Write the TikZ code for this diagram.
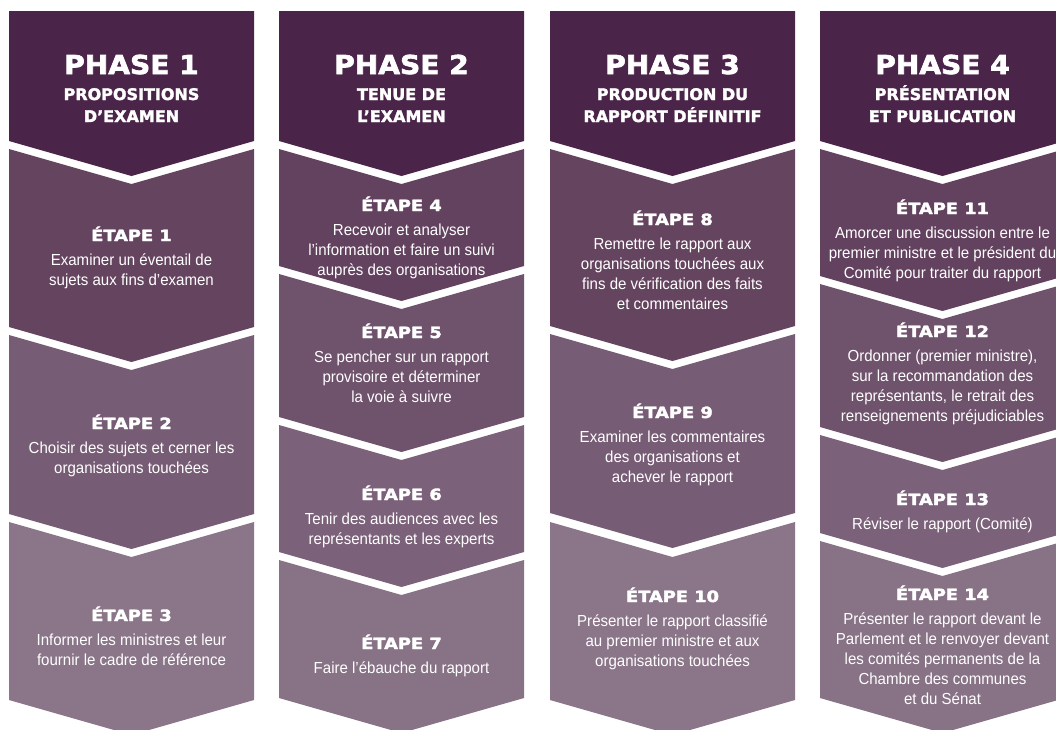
\documentclass[tikz,border=0pt]{standalone}
\usepackage{fontspec}
\setmainfont{Liberation Sans}
\newfontfamily\phasefont[FakeStretch=1.08,FakeBold=2.5]{DejaVu Sans Bold}
\newfontfamily\subfont[FakeBold=2]{DejaVu Sans Bold}
\newfontfamily\etapefont[FakeStretch=1.15,FakeBold=2.5]{DejaVu Sans Bold}
\newfontfamily\bodyfont[FakeStretch=0.94]{Liberation Sans}
\definecolor{hd}{HTML}{4B2449}
\definecolor{ta}{HTML}{65445F}
\definecolor{tb}{HTML}{775C75}
\definecolor{tc}{HTML}{8B7589}
\definecolor{fa}{HTML}{63425F}
\definecolor{fb}{HTML}{6F526C}
\definecolor{fc}{HTML}{7B6179}
\definecolor{fd}{HTML}{887286}
\newcommand\mkhead[2]{\fill[#2] (#1,11) -- (#1+245,11) -- (#1+245,141) -- (#1+122.5,176) -- (#1,141) -- cycle;}
\newcommand\mkpiece[4]{\fill[#4] (#1,#2) -- (#1+122.5,#2+35) -- (#1+245,#2) -- (#1+245,#3) -- (#1+122.5,#3+35) -- (#1,#3) -- cycle;}
% #1 name, #2 x, #3 label baseline, #4 number of body lines, #5 label, #6 body
\newcommand\mkstep[6]{\node[lbl] (#1l) at (#2,#3) {#5}; \node[body] (#1b) at (#2,#3+24+20*#4-20) {#6};}
\newcommand\mkphase[4]{\node[ttl] (#1t) at (#2,74) {#3}; \node[sub] (#1s) at (#2,122) {#4};}
\begin{document}
\begin{tikzpicture}[x=1pt,y=-1pt,
  ttl/.style={anchor=base,text=white,font=\phasefont\fontsize{26}{26}\selectfont,inner sep=0},
  sub/.style={anchor=base,text=white,align=center,font=\subfont\fontsize{16}{22}\selectfont,inner sep=0},
  lbl/.style={anchor=base,text=white,font=\etapefont\fontsize{15.5}{18}\selectfont,inner sep=0},
  body/.style={anchor=base,text=white,align=center,font=\bodyfont\fontsize{16}{20}\selectfont,inner sep=0}]
\useasboundingbox (0,0) rectangle (1056,729);
\clip (0,0) rectangle (1056,729);
\fill[white] (0,0) rectangle (1056,729);
% column 1
\mkhead{9}{hd}
\mkpiece{9}{149}{327}{ta}
\mkpiece{9}{335}{514}{tb}
\mkpiece{9}{522}{700}{tc}
% column 2
\mkhead{279}{hd}
\mkpiece{279}{149}{266}{fa}
\mkpiece{279}{274}{417}{fb}
\mkpiece{279}{425}{552}{fc}
\mkpiece{279}{560}{698}{fd}
% column 3
\mkhead{550}{hd}
\mkpiece{550}{149}{326}{ta}
\mkpiece{550}{334}{513}{tb}
\mkpiece{550}{522}{700}{tc}
% column 4
\mkhead{820}{hd}
\mkpiece{820}{149}{276}{fa}
\mkpiece{820}{284}{427}{fb}
\mkpiece{820}{435}{533}{fc}
\mkpiece{820}{541}{698}{fd}
% texts
\mkphase{p1}{131.5}{PHASE 1}{PROPOSITIONS\\D’EXAMEN}
\mkphase{p2}{401.5}{PHASE 2}{TENUE DE\\L’EXAMEN}
\mkphase{p3}{672.5}{PHASE 3}{PRODUCTION DU\\RAPPORT DÉFINITIF}
\mkphase{p4}{942.5}{PHASE 4}{PRÉSENTATION\\ET PUBLICATION}
\mkstep{e1}{131.5}{241}{2}{ÉTAPE 1}{Examiner un éventail de\\sujets aux fins d’examen}
\mkstep{e2}{131.5}{429}{2}{ÉTAPE 2}{Choisir des sujets et cerner les\\organisations touchées}
\mkstep{e3}{131.5}{621}{2}{ÉTAPE 3}{Informer les ministres et leur\\fournir le cadre de référence}
\mkstep{e4}{401.5}{211}{3}{ÉTAPE 4}{Recevoir et analyser\\l’information et faire un suivi\\auprès des organisations}
\mkstep{e5}{401.5}{338}{3}{ÉTAPE 5}{Se pencher sur un rapport\\provisoire et déterminer\\la voie à suivre}
\mkstep{e6}{401.5}{500}{2}{ÉTAPE 6}{Tenir des audiences avec les\\représentants et les experts}
\mkstep{e7}{401.5}{649}{1}{ÉTAPE 7}{Faire l’ébauche du rapport}
\mkstep{e8}{672.5}{225}{4}{ÉTAPE 8}{Remettre le rapport aux\\organisations touchées aux\\fins de vérification des faits\\et commentaires}
\mkstep{e9}{672.5}{418}{3}{ÉTAPE 9}{Examiner les commentaires\\des organisations et\\achever le rapport}
\mkstep{e10}{672.5}{602}{3}{ÉTAPE 10}{Présenter le rapport classifié\\au premier ministre et aux\\organisations touchées}
\mkstep{e11}{942.5}{214}{3}{ÉTAPE 11}{Amorcer une discussion entre le\\premier ministre et le président du\\Comité pour traiter du rapport}
\mkstep{e12}{942.5}{337}{4}{ÉTAPE 12}{Ordonner (premier ministre),\\sur la recommandation des\\représentants, le retrait des\\renseignements préjudiciables}
\mkstep{e13}{942.5}{505}{1}{ÉTAPE 13}{Réviser le rapport (Comité)}
\mkstep{e14}{942.5}{600}{5}{ÉTAPE 14}{Présenter le rapport devant le\\Parlement et le renvoyer devant\\les comités permanents de la\\Chambre des communes\\et du Sénat}
\end{tikzpicture}
\end{document}
